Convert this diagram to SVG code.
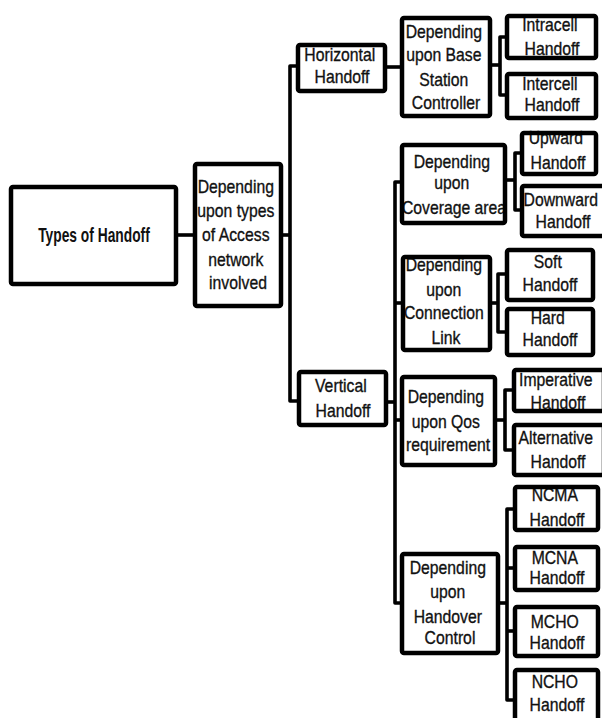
<svg xmlns="http://www.w3.org/2000/svg" width="602" height="718" viewBox="0 0 602 718">
  <style>
    .bg { fill: #ffffff; }
    .box { fill: none; stroke: #000; stroke-width: 4.5; }
    .fill { fill: #ffffff; stroke: none; }
    .lbl { font-family: "Liberation Sans", Arial, sans-serif; font-size: 19px; fill: #111; stroke: #111; stroke-width: 0.35; text-anchor: middle; }
    .title { font-family: "Liberation Sans", Arial, sans-serif; font-size: 20px; font-weight: bold; fill: #111; text-anchor: middle; }
    .wire { fill: none; stroke: #000; stroke-width: 3.6; stroke-linejoin: round; stroke-linecap: butt; }
  </style>
  <rect class="bg" x="0" y="0" width="602" height="718"/>

  <!-- connectors -->
  <g id="connectors">
    <path class="wire" d="M178 235 H193"/>
    <path class="wire" d="M283 235 H290"/>
    <path class="wire" d="M297 66 H290 V401 H298"/>
    <path class="wire" d="M387 67 H400"/>
    <path class="wire" d="M388 402 H395"/>
    <path class="wire" d="M401 182 H395 V603 H401"/>
    <path class="wire" d="M395 303 H402"/>
    <path class="wire" d="M395 420 H401"/>
    <!-- base station controller bracket -->
    <path class="wire" d="M492 65 H500"/>
    <path class="wire" d="M506 37 H500 V95 H506"/>
    <!-- coverage area bracket -->
    <path class="wire" d="M507 180 H515"/>
    <path class="wire" d="M521 153 H515 V210 H521"/>
    <!-- connection link bracket -->
    <path class="wire" d="M492 303 H498"/>
    <path class="wire" d="M506 274 H498 V332 H506"/>
    <!-- qos bracket -->
    <path class="wire" d="M497 420 H505"/>
    <path class="wire" d="M513 390 H505 V450 H513"/>
    <!-- handover control bracket -->
    <path class="wire" d="M500 603 H507"/>
    <path class="wire" d="M514 509 H507 V700 H514"/>
    <path class="wire" d="M507 568 H514"/>
    <path class="wire" d="M507 631 H514"/>
  </g>

  <g id="types">
    <rect class="fill" x="11" y="187" width="165" height="97"/>
    <text class="title" transform="translate(94 0) scale(0.69 1)" x="0" y="242">Types of Handoff</text>
    <rect class="box" x="11" y="187" width="165" height="97" rx="2"/>
  </g>

  <g id="access-network">
    <rect class="fill" x="195" y="164" width="86" height="142"/>
    <text class="lbl" transform="translate(238 0) scale(0.83 1)">
      <tspan x="0" y="193">Depending</tspan>
      <tspan x="0" y="217">upon types</tspan>
      <tspan x="0" y="241">of Access</tspan>
      <tspan x="0" y="266">network</tspan>
      <tspan x="0" y="289">involved</tspan>
    </text>
    <rect class="box" x="195" y="164" width="86" height="142" rx="2"/>
  </g>

  <g id="horizontal">
    <rect class="fill" x="298" y="45" width="87" height="46"/>
    <text class="lbl" transform="translate(342 0) scale(0.83 1)">
      <tspan x="0" y="61">Horizontal</tspan>
      <tspan x="0" y="83">Handoff</tspan>
    </text>
    <rect class="box" x="298" y="45" width="87" height="46" rx="2"/>
  </g>

  <g id="vertical">
    <rect class="fill" x="299" y="372" width="87" height="53"/>
    <text class="lbl" transform="translate(343 0) scale(0.83 1)">
      <tspan x="0" y="392">Vertical</tspan>
      <tspan x="0" y="417">Handoff</tspan>
    </text>
    <rect class="box" x="299" y="372" width="87" height="53" rx="2"/>
  </g>

  <g id="base-station">
    <rect class="fill" x="402" y="18" width="88" height="98"/>
    <text class="lbl" transform="translate(446 0) scale(0.83 1)">
      <tspan x="0" y="38">Depending</tspan>
      <tspan x="0" y="61">upon Base</tspan>
      <tspan x="0" y="86">Station</tspan>
      <tspan x="0" y="109">Controller</tspan>
    </text>
    <rect class="box" x="402" y="18" width="88" height="98" rx="2"/>
  </g>

  <g id="coverage">
    <rect class="fill" x="402" y="145" width="103" height="78"/>
    <text class="lbl" transform="translate(454 0) scale(0.83 1)">
      <tspan x="0" y="168">Depending</tspan>
      <tspan x="0" y="189">upon</tspan>
      <tspan x="0" y="214">Coverage area</tspan>
    </text>
    <rect class="box" x="402" y="145" width="103" height="78" rx="2"/>
  </g>

  <g id="connection">
    <rect class="fill" x="403" y="257" width="87" height="93"/>
    <text class="lbl" transform="translate(446 0) scale(0.83 1)">
      <tspan x="0" y="271">Depending</tspan>
      <tspan x="0" y="296">upon</tspan>
      <tspan x="0" y="319">Connection</tspan>
      <tspan x="0" y="344">Link</tspan>
    </text>
    <rect class="box" x="403" y="257" width="87" height="93" rx="2"/>
  </g>

  <g id="qos">
    <rect class="fill" x="402" y="377" width="93" height="88"/>
    <text class="lbl" transform="translate(448 0) scale(0.83 1)">
      <tspan x="0" y="403">Depending</tspan>
      <tspan x="0" y="428">upon Qos</tspan>
      <tspan x="0" y="451">requirement</tspan>
    </text>
    <rect class="box" x="402" y="377" width="93" height="88" rx="2"/>
  </g>

  <g id="handover-control">
    <rect class="fill" x="402" y="554" width="96" height="99"/>
    <text class="lbl" transform="translate(450 0) scale(0.83 1)">
      <tspan x="0" y="574">Depending</tspan>
      <tspan x="0" y="598">upon</tspan>
      <tspan x="0" y="623">Handover</tspan>
      <tspan x="0" y="644">Control</tspan>
    </text>
    <rect class="box" x="402" y="554" width="96" height="99" rx="2"/>
  </g>

  <g id="intracell">
    <rect class="fill" x="507" y="16" width="89" height="42"/>
    <text class="lbl" transform="translate(552 0) scale(0.83 1)">
      <tspan x="0" y="31">Intracell</tspan>
      <tspan x="0" y="55">Handoff</tspan>
    </text>
    <rect class="box" x="507" y="16" width="89" height="42" rx="2"/>
  </g>

  <g id="intercell">
    <rect class="fill" x="507" y="74" width="89" height="44"/>
    <text class="lbl" transform="translate(552 0) scale(0.83 1)">
      <tspan x="0" y="90">Intercell</tspan>
      <tspan x="0" y="111">Handoff</tspan>
    </text>
    <rect class="box" x="507" y="74" width="89" height="44" rx="2"/>
  </g>

  <g id="upward">
    <rect class="fill" x="522" y="133" width="74" height="41"/>
    <text class="lbl" transform="translate(558 0) scale(0.83 1)">
      <tspan x="0" y="144">Upward</tspan>
      <tspan x="0" y="169">Handoff</tspan>
    </text>
    <rect class="box" x="522" y="133" width="74" height="41" rx="2"/>
  </g>

  <g id="downward">
    <rect class="fill" x="522" y="186" width="84" height="50"/>
    <text class="lbl" transform="translate(563 0) scale(0.83 1)">
      <tspan x="0" y="206">Downward</tspan>
      <tspan x="0" y="228">Handoff</tspan>
    </text>
    <rect class="box" x="522" y="186" width="84" height="50" rx="2"/>
  </g>

  <g id="soft">
    <rect class="fill" x="507" y="250" width="86" height="50"/>
    <text class="lbl" transform="translate(550 0) scale(0.83 1)">
      <tspan x="0" y="268">Soft</tspan>
      <tspan x="0" y="291">Handoff</tspan>
    </text>
    <rect class="box" x="507" y="250" width="86" height="50" rx="2"/>
  </g>

  <g id="hard">
    <rect class="fill" x="507" y="309" width="86" height="46"/>
    <text class="lbl" transform="translate(550 0) scale(0.83 1)">
      <tspan x="0" y="324">Hard</tspan>
      <tspan x="0" y="346">Handoff</tspan>
    </text>
    <rect class="box" x="507" y="309" width="86" height="46" rx="2"/>
  </g>

  <g id="imperative">
    <rect class="fill" x="514" y="370" width="90" height="41"/>
    <text class="lbl" transform="translate(558 0) scale(0.83 1)">
      <tspan x="0" y="386">Imperative</tspan>
      <tspan x="0" y="409">Handoff</tspan>
    </text>
    <rect class="box" x="514" y="370" width="90" height="41" rx="2"/>
  </g>

  <g id="alternative">
    <rect class="fill" x="514" y="425" width="90" height="50"/>
    <text class="lbl" transform="translate(558 0) scale(0.83 1)">
      <tspan x="0" y="444">Alternative</tspan>
      <tspan x="0" y="468">Handoff</tspan>
    </text>
    <rect class="box" x="514" y="425" width="90" height="50" rx="2"/>
  </g>

  <g id="ncma">
    <rect class="fill" x="515" y="487" width="83" height="43"/>
    <text class="lbl" transform="translate(557 0) scale(0.83 1)">
      <tspan x="0" y="501">NCMA</tspan>
      <tspan x="0" y="526">Handoff</tspan>
    </text>
    <rect class="box" x="515" y="487" width="83" height="43" rx="2"/>
  </g>

  <g id="mcna">
    <rect class="fill" x="515" y="547" width="83" height="43"/>
    <text class="lbl" transform="translate(557 0) scale(0.83 1)">
      <tspan x="0" y="564">MCNA</tspan>
      <tspan x="0" y="584">Handoff</tspan>
    </text>
    <rect class="box" x="515" y="547" width="83" height="43" rx="2"/>
  </g>

  <g id="mcho">
    <rect class="fill" x="515" y="607" width="83" height="49"/>
    <text class="lbl" transform="translate(557 0) scale(0.83 1)">
      <tspan x="0" y="628">MCHO</tspan>
      <tspan x="0" y="649">Handoff</tspan>
    </text>
    <rect class="box" x="515" y="607" width="83" height="49" rx="2"/>
  </g>

  <g id="ncho">
    <rect class="fill" x="515" y="670" width="83" height="60"/>
    <text class="lbl" transform="translate(557 0) scale(0.83 1)">
      <tspan x="0" y="688">NCHO</tspan>
      <tspan x="0" y="711">Handoff</tspan>
    </text>
    <rect class="box" x="515" y="670" width="83" height="60" rx="2"/>
  </g>
</svg>
